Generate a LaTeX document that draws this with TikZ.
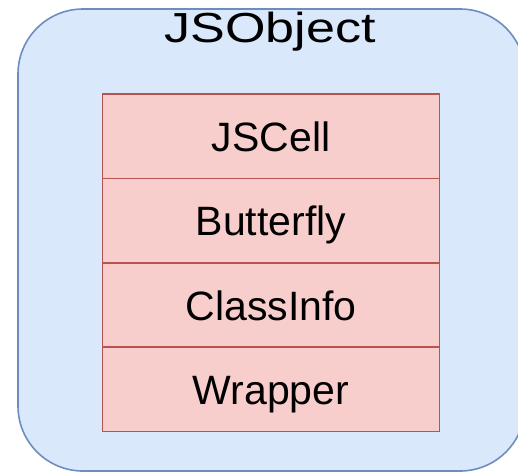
\documentclass[tikz,border=0pt]{standalone}
\usepackage{fontspec}
\setmainfont{Liberation Sans}
\definecolor{outerfill}{HTML}{DAE8FC}
\definecolor{outerdraw}{HTML}{6C8EBF}
\definecolor{cellfill}{HTML}{F8CECC}
\definecolor{celldraw}{HTML}{B85450}
\begin{document}
\begin{tikzpicture}[x=1pt,y=-1pt,
  outerbox/.style={draw=outerdraw,fill=outerfill,line width=1.6pt,rounded corners=65pt,
    minimum width=507pt,minimum height=462pt,inner sep=0pt,outer sep=0pt},
  cellbox/.style={fill=cellfill,
    minimum width=337pt,minimum height=84.4pt,inner sep=0pt,outer sep=0pt},
  cellborder/.style={draw=celldraw,line width=1.6pt},
  celltext/.style={anchor=base,inner sep=0pt,font=\fontsize{41}{49}\selectfont},
  titletext/.style={anchor=base,inner sep=0pt,font=\fontsize{42}{50}\selectfont,xscale=1.24}]
\useasboundingbox (0,0) rectangle (518,472);
\clip (0,0) rectangle (518,472);
\node[outerbox] (obj) at (271.5,240) {};
\node[titletext] (title) at (270,42) {JSObject};
\node[cellbox, anchor=north] (c1) at (271,94) {};
\node[cellbox, anchor=north] (c2) at (c1.south) {};
\node[cellbox, anchor=north] (c3) at (c2.south) {};
\node[cellbox, anchor=north] (c4) at (c3.south) {};
\foreach \c in {c1,c2,c3,c4}
  \draw[cellborder] (\c.south west) rectangle (\c.north east);
\node[celltext] (t1) at ([yshift=-15pt]c1.center) {JSCell};
\node[celltext] (t2) at ([yshift=-15pt]c2.center) {Butterfly};
\node[celltext] (t3) at ([yshift=-15pt]c3.center) {ClassInfo};
\node[celltext] (t4) at ([yshift=-15pt]c4.center) {Wrapper};
\end{tikzpicture}
\end{document}
